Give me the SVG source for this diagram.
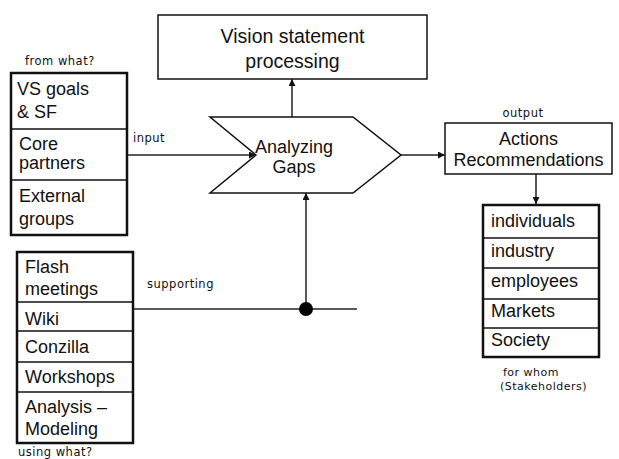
<svg xmlns="http://www.w3.org/2000/svg" width="619" height="459" viewBox="0 0 619 459">
<style>
.bg{fill:#fff}
.t{font-family:"Liberation Sans",Arial,sans-serif;font-size:18px;fill:#111}
.tv{font-family:"Liberation Sans",Arial,sans-serif;font-size:19.5px;fill:#111}
.c{text-anchor:middle}
.s{font-family:"DejaVu Sans",Verdana,sans-serif;font-size:11.5px;letter-spacing:0.5px;fill:#111}
.box{fill:#fff;stroke:#111;stroke-width:1.5}
.lst{fill:#fff;stroke:#111;stroke-width:2.5}
.div{stroke:#111;stroke-width:1.3}
.ln{fill:none;stroke:#222;stroke-width:1.5}
</style>
<defs>
<marker id="ah" viewBox="0 0 10 10" refX="10" refY="5" markerWidth="7" markerHeight="7" markerUnits="userSpaceOnUse" orient="auto">
<path d="M0,0 L10,5 L0,10 z" fill="#111"/>
</marker>
</defs>
<rect class="bg" x="0" y="0" width="619" height="459"/>

<g id="connectors">
<line class="ln" x1="127" y1="155" x2="256" y2="155" marker-end="url(#ah)"/>
<line class="ln" x1="292" y1="117" x2="292" y2="79" marker-end="url(#ah)"/>
<line class="ln" x1="401" y1="155" x2="445" y2="155" marker-end="url(#ah)"/>
<line class="ln" x1="536" y1="174" x2="536" y2="204" marker-end="url(#ah)"/>
<line class="ln" x1="133" y1="309" x2="357" y2="309"/>
<line class="ln" x1="306" y1="309" x2="306" y2="193" marker-end="url(#ah)"/>
<circle cx="306" cy="309" r="7" fill="#000"/>
<text class="s" x="133" y="142">input</text>
<text class="s c" x="523" y="117">output</text>
<text class="s" x="147" y="288">supporting</text>
</g>

<g id="vision">
<rect class="box" x="158" y="15" width="269" height="64"/>
<text class="tv c" x="292.5" y="43">Vision statement</text>
<text class="tv c" x="292.5" y="68">processing</text>
</g>

<g id="analyzing">
<polygon class="box" points="210,117 353,117 401,155 353,193 210,193 256,155"/>
<text class="t c" x="294" y="153">Analyzing</text>
<text class="t c" x="294" y="173">Gaps</text>
</g>

<g id="actions">
<rect class="box" x="445" y="123" width="167" height="51"/>
<text class="t c" x="528.5" y="145">Actions</text>
<text class="t c" x="528.5" y="166">Recommendations</text>
</g>

<g id="from-what">
<text class="s" x="25" y="65">from what?</text>
<rect class="lst" x="11" y="73" width="116" height="162"/>
<line class="div" x1="11" y1="129" x2="127" y2="129"/>
<line class="div" x1="11" y1="180" x2="127" y2="180"/>
<text class="t" x="17" y="95">VS goals</text>
<text class="t" x="17" y="118">&amp; SF</text>
<text class="t" x="19" y="150">Core</text>
<text class="t" x="19" y="169">partners</text>
<text class="t" x="19" y="202">External</text>
<text class="t" x="19" y="225">groups</text>
</g>

<g id="using-what">
<rect class="lst" x="17" y="252" width="116" height="191"/>
<line class="div" x1="17" y1="302" x2="133" y2="302"/>
<line class="div" x1="17" y1="331" x2="133" y2="331"/>
<line class="div" x1="17" y1="362" x2="133" y2="362"/>
<line class="div" x1="17" y1="392" x2="133" y2="392"/>
<text class="t" x="25" y="273">Flash</text>
<text class="t" x="25" y="295">meetings</text>
<text class="t" x="25" y="325">Wiki</text>
<text class="t" x="25" y="353">Conzilla</text>
<text class="t" x="25" y="383">Workshops</text>
<text class="t" x="25" y="413">Analysis –</text>
<text class="t" x="25" y="435">Modeling</text>
<text class="s" x="18" y="456">using what?</text>
</g>

<g id="for-whom">
<rect class="lst" x="483" y="205" width="116" height="152"/>
<line class="div" x1="483" y1="238" x2="599" y2="238"/>
<line class="div" x1="483" y1="268" x2="599" y2="268"/>
<line class="div" x1="483" y1="299" x2="599" y2="299"/>
<line class="div" x1="483" y1="328" x2="599" y2="328"/>
<text class="t" x="491" y="227">individuals</text>
<text class="t" x="491" y="257">industry</text>
<text class="t" x="491" y="287">employees</text>
<text class="t" x="491" y="317">Markets</text>
<text class="t" x="491" y="346">Society</text>
<text class="s" x="503" y="376" style="font-size:11px">for whom</text>
<text class="s" x="500" y="390" style="font-size:11px">(Stakeholders)</text>
</g>
</svg>
